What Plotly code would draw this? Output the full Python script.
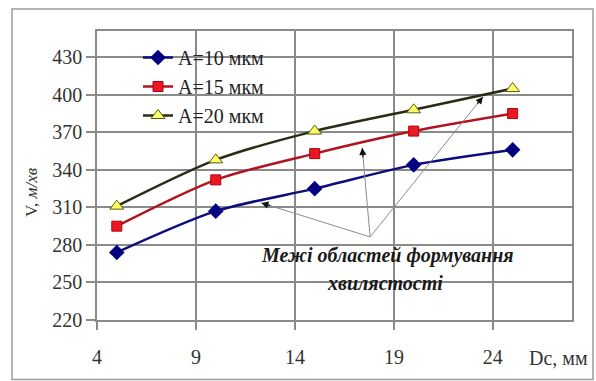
import plotly.graph_objects as go

# Wheel diameter Dc (mm) and speed V (m/min) for three waviness amplitudes
dc = [5, 10, 15, 20, 25]
v_a10 = [274, 307, 325, 344, 356]
v_a15 = [295, 332, 353, 371, 385]
v_a20 = [311, 348, 371, 388, 405]

series_names = ["A=10 мкм", "A=15 мкм", "A=20 мкм"]
y_ticks = [220, 250, 280, 310, 340, 370, 400, 430]
x_ticks = [4, 9, 14, 19, 24]

# Boundary arrows: common tail and the three tips on the curves (data units)
arrow_tail = (17.8, 286.4)
arrow_tips = [(12.3, 313.6), (17.4, 357.6), (23.5, 398.4)]

W, H = 596, 381
M = dict(l=97, r=24, t=31, b=61)
X_RANGE = [4, 28]
Y_RANGE = [220, 451]
SERIF = "Liberation Serif, Times New Roman, serif"
GRID = "#8a8a8a"

fig = go.Figure()

styles = [
    dict(line=dict(color="#0c0c7c", width=2.5),
         marker=dict(symbol="diamond", size=12, color="#000080")),
    dict(line=dict(color="#b0141e", width=2.5),
         marker=dict(symbol="square", size=10, color="#ea1820",
                     line=dict(color="#b00010", width=1))),
    dict(line=dict(color="#2c2c14", width=2.5),
         marker=dict(symbol="triangle-up", size=12, color="#ffff66",
                     line=dict(color="#5a5a10", width=1))),
]
for name, vals, st in zip(series_names, [v_a10, v_a15, v_a20], styles):
    fig.add_trace(go.Scatter(
        x=dc, y=vals, name=name, mode="lines+markers",
        line=dict(shape="spline", smoothing=0.8, **st["line"]),
        marker=st["marker"],
    ))

# px per data unit, used for arrowhead direction
pw = W - M["l"] - M["r"]
ph = H - M["t"] - M["b"]
sx = pw / (X_RANGE[1] - X_RANGE[0])
sy = ph / (Y_RANGE[1] - Y_RANGE[0])

shapes = [
    # white masks that hide the gridlines behind the legend and the caption
    dict(type="rect", xref="paper", yref="paper", layer="between",
         x0=(110 - M["l"]) / pw, x1=(296.5 - M["l"]) / pw,
         y0=(H - M["b"] - 127) / ph, y1=(H - M["b"] - 40) / ph,
         fillcolor="white", line=dict(width=0)),
    dict(type="rect", xref="paper", yref="paper", layer="between",
         x0=(233 - M["l"]) / pw, x1=(557 - M["l"]) / pw,
         y0=(H - M["b"] - 298) / ph, y1=(H - M["b"] - 224) / ph,
         fillcolor="white", line=dict(width=0)),
    # outer frame
    dict(type="rect", xref="paper", yref="paper", layer="above",
         x0=(12 - M["l"]) / pw, x1=(593 - M["l"]) / pw,
         y0=(H - M["b"] - 379.5) / ph, y1=(H - M["b"] - 9) / ph,
         line=dict(color="#9c9c9c", width=1.5)),
]

annotations = []
for tx, ty in arrow_tips:
    shapes.append(dict(type="line", xref="x", yref="y", layer="above",
                       x0=arrow_tail[0], y0=arrow_tail[1], x1=tx, y1=ty,
                       line=dict(color="#8c8c8c", width=1)))
    dxp = (arrow_tail[0] - tx) * sx
    dyp = -(arrow_tail[1] - ty) * sy
    n = (dxp ** 2 + dyp ** 2) ** 0.5
    annotations.append(dict(x=tx, y=ty, xref="x", yref="y", text="",
                            showarrow=True, arrowhead=2, arrowsize=1.1,
                            arrowwidth=1.3, arrowcolor="#111",
                            ax=dxp / n * 11, ay=dyp / n * 11, standoff=0))

cap_font = dict(family=SERIF, size=20, color="#1a1a1a")
annotations += [
    dict(x=(387 - M["l"]) / pw, y=(H - M["b"] - 256) / ph, xref="paper", yref="paper",
         text="<b><i>Межі областей формування</i></b>", showarrow=False,
         xanchor="center", yanchor="middle", font=cap_font),
    dict(x=(385 - M["l"]) / pw, y=(H - M["b"] - 283) / ph, xref="paper", yref="paper",
         text="<b><i>хвилястості</i></b>", showarrow=False,
         xanchor="center", yanchor="middle", font=cap_font),
    dict(x=(31 - M["l"]) / pw, y=(H - M["b"] - 192) / ph, xref="paper", yref="paper",
         text="V, <i>м/хв</i>", textangle=-90, showarrow=False,
         xanchor="center", yanchor="middle",
         font=dict(family=SERIF, size=17, color="#333")),
    dict(x=(527 - M["l"]) / pw, y=(H - M["b"] - 358) / ph, xref="paper", yref="paper",
         text="Dc, мм", showarrow=False, xanchor="left", yanchor="middle",
         font=dict(family=SERIF, size=20, color="#333")),
]

axis_common = dict(
    showline=True, mirror=True, linecolor=GRID, linewidth=1.5,
    showgrid=True, gridcolor=GRID, gridwidth=1.5, zeroline=False,
    ticks="outside", tickcolor=GRID, tickwidth=1.5,
    tickfont=dict(family=SERIF, size=20, color="#333"),
)

fig.update_layout(
    width=W, height=H, margin=M,
    paper_bgcolor="white", plot_bgcolor="white",
    font=dict(family=SERIF),
    xaxis=dict(range=X_RANGE, tickvals=x_ticks, ticklen=8,
               ticklabelstandoff=10, **axis_common),
    yaxis=dict(range=Y_RANGE, tickvals=y_ticks, ticklen=9, **axis_common),
    legend=dict(x=(138 - M["l"]) / pw, y=(H - M["b"] - 38) / ph,
                xanchor="left", yanchor="top", bgcolor="rgba(0,0,0,0)",
                font=dict(family=SERIF, size=20, color="#222")),
    shapes=shapes, annotations=annotations,
)

fig.write_html("out.html")
